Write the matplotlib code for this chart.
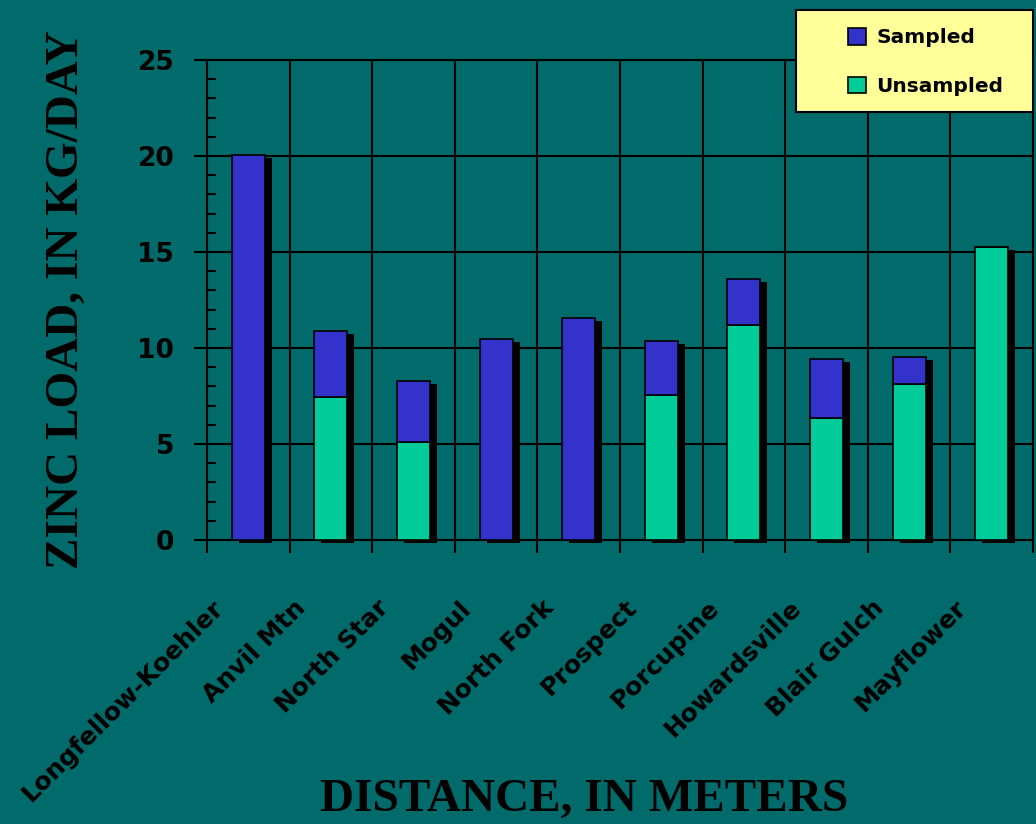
import matplotlib.pyplot as plt
import matplotlib.transforms as mtransforms
from matplotlib.patches import Rectangle
import numpy as np

# zinc loads per source area, kg/day
sites = ["Longfellow-Koehler", "Anvil Mtn", "North Star", "Mogul", "North Fork",
         "Prospect", "Porcupine", "Howardsville", "Blair Gulch", "Mayflower"]
unsampled = [0.0, 7.45, 5.1, 0.0, 0.0, 7.55, 11.2, 6.35, 8.1, 15.25]
sampled = [20.05, 3.45, 3.2, 10.45, 11.55, 2.8, 2.4, 3.08, 1.43, 0.0]

bg = "#006B6A"
blue = "#3333CC"
green = "#00CC99"
lab_font = "DejaVu Sans"
title_font = "Liberation Serif"

x = np.arange(len(sites))
total = np.array(unsampled) + np.array(sampled)

fig = plt.figure(figsize=(10.36, 8.24), dpi=100, facecolor=bg)
ax = fig.add_axes([207/1036, 284/824, 826/1036, 480/824], facecolor=bg)

# drop shadow behind each stack
ax.bar(x + 0.085, total, width=0.4, bottom=-0.16, color="black", zorder=2, clip_on=False)
ax.bar(x, unsampled, width=0.4, color=green, edgecolor="black", linewidth=1.2,
       zorder=3, label="Unsampled")
ax.bar(x, sampled, width=0.4, bottom=unsampled, color=blue, edgecolor="black",
       linewidth=1.2, zorder=3, label="Sampled")

ax.set_xlim(-0.5, 9.5)
ax.set_ylim(0, 25)
ax.set_axisbelow(True)

# y axis: labelled major ticks outward, small minor ticks inward
ax.set_yticks(np.arange(0, 26, 5))
ax.set_yticks(np.arange(0, 26, 1), minor=True)
ax.tick_params(axis="y", which="major", direction="out", length=9.5, width=1.5,
               color="black", pad=14, labelsize=19)
ax.tick_params(axis="y", which="minor", direction="in", length=6.5, width=1.5, color="black")
for t in ax.get_yticklabels():
    t.set_fontfamily(lab_font)
    t.set_fontweight("bold")

# x axis: grid at the cell borders, site names at the centres
ax.set_xticks(np.arange(-0.5, 10, 1))
ax.set_xticklabels([])
ax.set_xticks(x, minor=True)
ax.set_xticklabels(sites, minor=True, rotation=45, ha="right", va="top",
                   rotation_mode="anchor", fontsize=18, fontweight="bold",
                   fontfamily=lab_font)
ax.tick_params(axis="x", which="major", direction="out", length=9.5, width=1.5, color="black")
ax.tick_params(axis="x", which="minor", length=0, pad=40)
shift = mtransforms.ScaledTranslation(-37/100, 0, fig.dpi_scale_trans)
for t in ax.get_xticklabels(minor=True):
    t.set_transform(t.get_transform() + shift)

ax.grid(True, which="major", color="black", linewidth=1.5)
for s in ax.spines.values():
    s.set_color("black")
    s.set_linewidth(1.5)

fig.text(67/1036, 1 - 300/824, "ZINC LOAD, IN KG/DAY", rotation=90, ha="center", va="center",
         fontsize=34, fontweight="bold", fontfamily=title_font)
fig.text(584/1036, 1 - 800/824, "DISTANCE, IN METERS", ha="center", va="center",
         fontsize=34, fontweight="bold", fontfamily=title_font)

# legend box drawn separately so the entries sit indented inside it
fig.patches.append(Rectangle((796/1036, 1 - 112/824), 237/1036, 102/824,
                             transform=fig.transFigure, facecolor="#FFFF99",
                             edgecolor="black", linewidth=1.5, zorder=5))
handles, labels = ax.get_legend_handles_labels()
leg = fig.legend(handles[::-1], labels[::-1], loc="upper left",
                 bbox_to_anchor=(848/1036, 1 - 28/824), frameon=False,
                 prop={"family": lab_font, "weight": "bold", "size": 14.5},
                 handlelength=0.9, handleheight=0.9, handletextpad=0.5,
                 labelspacing=1.45, borderpad=0, borderaxespad=0)
leg.set_zorder(6)
for p in leg.get_patches():
    p.set_edgecolor("black")
    p.set_linewidth(1.2)

fig.savefig("out.png", dpi=100, facecolor=bg)
